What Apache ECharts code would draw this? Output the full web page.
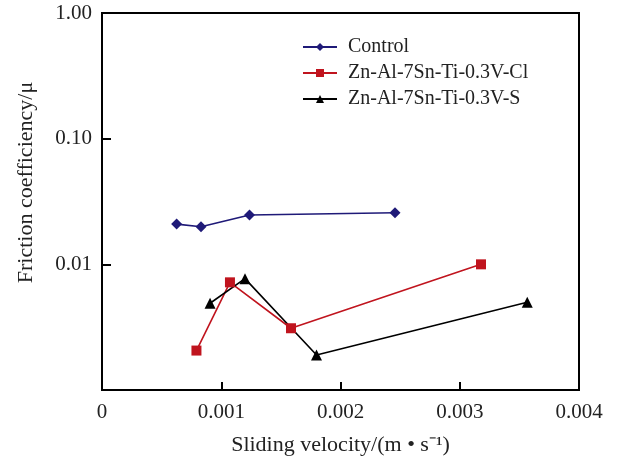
<!DOCTYPE html>
<html>
<head>
<meta charset="utf-8">
<script src="https://cdn.jsdelivr.net/npm/echarts@6/dist/echarts.min.js"></script>
<style>
  html, body { margin: 0; padding: 0; background: #fff; }
  #myChart { width: 633px; height: 462px; }
</style>
</head>
<body>
<div id="myChart"></div>
<script>
  var seriesNames = ['Control', 'Zn-Al-7Sn-Ti-0.3V-Cl', 'Zn-Al-7Sn-Ti-0.3V-S']
  var colors = ['#1f1a78', '#c0141e', '#000000']
  var symbols = ['diamond', 'rect', 'triangle']

  // [sliding velocity m/s, friction coefficient]
  var controlData = [[0.000626, 0.0209], [0.000830, 0.0199], [0.001237, 0.0247], [0.002457, 0.0257]]
  var clData = [[0.000792, 0.00206], [0.001073, 0.00719], [0.001585, 0.00310], [0.003178, 0.0100]]
  var sData = [[0.000906, 0.00490], [0.001199, 0.00769], [0.001799, 0.00190], [0.003566, 0.00499]]

  var xTicks = [0, 0.001, 0.002, 0.003, 0.004]
  var yTickLabels = { '1': '1.00', '0.1': '0.10', '0.01': '0.01' }

  var font = '"Liberation Serif", "Times New Roman", serif'
  var myChart = echarts.init(document.getElementById('myChart'), null, { renderer: 'canvas' })

  var allData = [controlData, clData, sData]
  var series = seriesNames.map(function (name, i) {
    return {
      name: name,
      type: 'line',
      data: allData[i],
      symbol: symbols[i],
      symbolSize: i === 1 ? 10 : 11,
      lineStyle: { color: colors[i], width: 1.6 },
      itemStyle: { color: colors[i] },
      animation: false
    }
  })

  var option = {
    backgroundColor: '#fff',
    textStyle: { fontFamily: font },
    grid: {
      left: 102, right: 54, top: 13, bottom: 72,
      show: true, borderColor: '#000', borderWidth: 2, backgroundColor: 'transparent'
    },
    legend: {
      data: seriesNames,
      orient: 'vertical',
      left: 302,
      top: 37,
      padding: 0,
      itemWidth: 34,
      itemHeight: 10,
      itemGap: 6,
      textStyle: { fontFamily: font, fontSize: 20, color: '#222', padding: [0, 0, 0, 6] }
    },
    xAxis: {
      type: 'value',
      min: 0,
      max: 0.004,
      interval: 0.001,
      name: 'Sliding velocity/(m • s⁻¹)',
      nameLocation: 'middle',
      nameGap: 44,
      nameTextStyle: { fontFamily: font, fontSize: 22, color: '#222' },
      axisLine: { show: true, lineStyle: { color: '#000', width: 2 } },
      axisTick: { show: true, inside: true, length: 8, lineStyle: { color: '#000', width: 2 } },
      axisLabel: {
        fontFamily: font, fontSize: 21, color: '#222', margin: 12,
        formatter: function (v) {
          for (var k = 0; k < xTicks.length; k++) {
            if (Math.abs(v - xTicks[k]) < 1e-9) return k === 0 ? '0' : xTicks[k].toFixed(3)
          }
          return ''
        }
      },
      splitLine: { show: false }
    },
    yAxis: {
      type: 'log',
      logBase: 10,
      min: 0.001,
      max: 1,
      name: 'Friction coefficiency/μ',
      nameLocation: 'middle',
      nameGap: 65,
      nameTextStyle: { fontFamily: font, fontSize: 22, color: '#222', padding: [0, 0, 0, 38] },
      axisLine: { show: true, lineStyle: { color: '#000', width: 2 } },
      axisTick: { show: true, inside: true, length: 9, lineStyle: { color: '#000', width: 2 } },
      axisLabel: {
        fontFamily: font, fontSize: 21, color: '#222', margin: 10,
        formatter: function (v) {
          var key = String(Math.round(v * 1000) / 1000)
          return yTickLabels[key] || ''
        }
      },
      splitLine: { show: false },
      minorTick: { show: false }
    },
    series: series
  }

  myChart.setOption(option)
</script>
</body>
</html>
